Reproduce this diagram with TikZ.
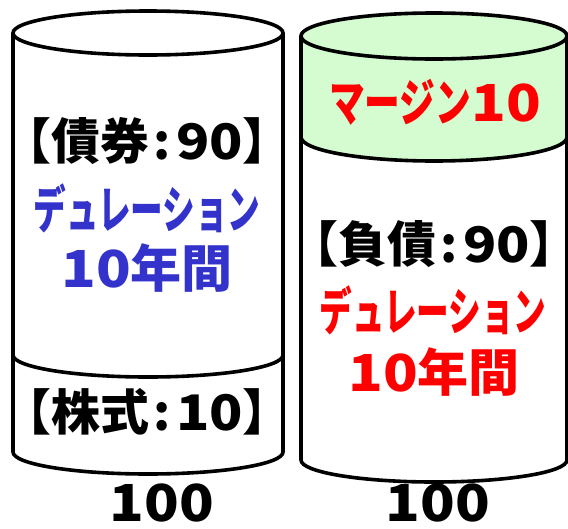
\documentclass[tikz,border=0pt]{standalone}
\usepackage{fontspec}
\setmainfont{Noto Sans CJK JP}
\usepackage{graphicx}
\definecolor{durblue}{HTML}{3333CC}
\definecolor{durred}{HTML}{FF0000}
\definecolor{margingreen}{HTML}{D5FBD0}
\newcommand{\kn}[2][0.66]{\scalebox{#1}[1]{#2}}
\newcommand{\dg}[1]{\scalebox{1.12}[1]{#1}}
\tikzset{
  cyl/.style={line width=3.6pt, draw=black},
  lbl/.style={font=\bfseries\fontsize{51}{56}\selectfont, inner sep=0pt, anchor=center},
  brk/.style={lbl, font=\bfseries\fontsize{49}{56}\selectfont},
}
\begin{document}
\begin{tikzpicture}[x=1pt, y=-1pt]
\useasboundingbox (0,0) rectangle (568,528);
% ---------- left cylinder ----------
\fill[white] (13,33) -- (13,452) arc[start angle=180, end angle=0, x radius=135, y radius=22] -- (283,33) -- cycle;
\draw[cyl] (13,33) -- (13,452) arc[start angle=180, end angle=0, x radius=135, y radius=22] -- (283,33);
\draw[cyl] (148,33) ellipse[x radius=135, y radius=22];
\draw[cyl] (13,355) arc[start angle=180, end angle=0, x radius=135, y radius=22];
% ---------- right cylinder ----------
\fill[margingreen] (301,36) -- (301,137) arc[start angle=180, end angle=0, x radius=133, y radius=24] -- (567,36) arc[start angle=0, end angle=-180, x radius=133, y radius=23] -- cycle;
\draw[cyl] (301,36) -- (301,460) arc[start angle=180, end angle=0, x radius=133, y radius=22] -- (567,36);
\draw[cyl] (434,36) ellipse[x radius=133, y radius=23];
\draw[cyl] (301,137) arc[start angle=180, end angle=0, x radius=133, y radius=24];
% ---------- labels left ----------
\node[brk] (bond) at (147,141) {【債券\kern0.1em:\kern0.1em\dg{90}】};
\node[lbl, text=durblue] (bdur) at (147,208) {\kn[0.64]{デュレーション}};
\node[lbl, text=durblue] (byr) at (147,268) {\dg{10}年間};
\node[brk] (stock) at (147,412) {【株式\kern0.1em:\kern0.1em\dg{10}】};
\node[lbl] (ltot) at (162,503) {\dg{100}};
% ---------- labels right ----------
\node[lbl, text=durred] (margin) at (435,102) {\kn[0.7]{マージン}\dg{10}};
\node[brk] (debt) at (434,244) {【負債\kern0.1em:\kern0.1em\dg{90}】};
\node[lbl, text=durred] (ddur) at (433,310) {\kn[0.64]{デュレーション}};
\node[lbl, text=durred] (dyr) at (434,372) {\dg{10}年間};
\node[lbl] (rtot) at (438,503) {\dg{100}};
\end{tikzpicture}
\end{document}
